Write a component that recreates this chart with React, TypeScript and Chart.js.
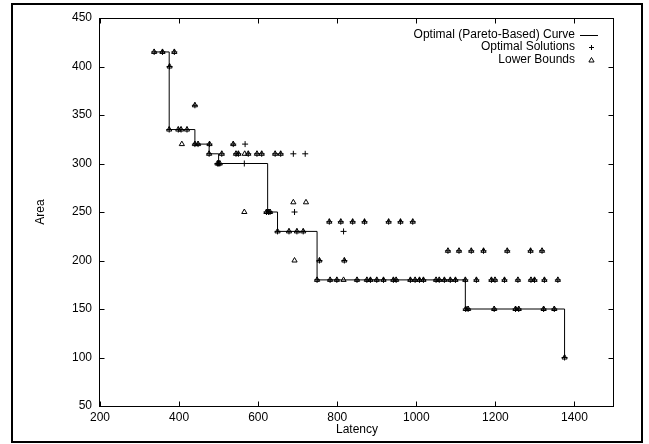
import React, { useEffect, useRef } from "react";
import { Chart, registerables } from "chart.js";

Chart.register(...registerables);

// Axis ticks
const X_TICKS = [200, 400, 600, 800, 1000, 1200, 1400];
const Y_TICKS = [50, 100, 150, 200, 250, 300, 350, 400, 450];

// Optimal (Pareto-based) curve corners (stepped)
const CURVE_LATENCY = [337, 375, 440, 476, 500, 624, 649, 749, 1124, 1375];
const CURVE_AREA = [415, 335, 320, 310, 300, 250, 230, 180, 150, 100];

// Points that are both optimal solutions and lower bounds
const BOTH_LATENCY = [
  337, 358, 388,
  376,
  440,
  375, 398, 405, 420,
  440, 448, 477, 537,
  476, 508, 544, 550, 575, 597, 609, 643, 657,
  497, 500, 503,
  621, 626, 630,
  649, 678, 698, 714,
  780, 809, 839, 869, 930, 960, 991,
  755, 818,
  749, 782, 799, 850, 875, 884, 900, 917, 942, 949, 985, 997, 1008, 1018,
  1050, 1058, 1071, 1086, 1099, 1124, 1152, 1190, 1199, 1223, 1257, 1290, 1299, 1324, 1358,
  1080, 1108, 1139, 1170, 1230, 1289, 1318,
  1125, 1131, 1197, 1251, 1259, 1322, 1349,
  1375,
];
const BOTH_AREA = [
  415, 415, 415,
  400,
  360,
  335, 335, 335, 335,
  320, 320, 320, 320,
  310, 310, 310, 310, 310, 310, 310, 310, 310,
  300, 300, 300,
  250, 250, 250,
  230, 230, 230, 230,
  240, 240, 240, 240, 240, 240, 240,
  200, 200,
  180, 180, 180, 180, 180, 180, 180, 180, 180, 180, 180, 180, 180, 180,
  180, 180, 180, 180, 180, 180, 180, 180, 180, 180, 180, 180, 180, 180, 180,
  210, 210, 210, 210, 210, 210, 210,
  150, 150, 150, 150, 150, 150, 150,
  100,
];

// Optimal solutions only
const OPT_ONLY_LATENCY = [567, 689, 719, 565, 692, 816];
const OPT_ONLY_AREA = [320, 310, 310, 300, 250, 230];

// Lower bounds only
const LB_ONLY_LATENCY = [407, 566, 565, 689, 721, 692, 816];
const LB_ONLY_AREA = [320, 310, 250, 260, 260, 200, 180];

const FONT_FAMILY = '"Liberation Sans", Arial, Helvetica, sans-serif';

const toPoints = (xs: number[], ys: number[]) => xs.map((x, i) => ({ x, y: ys[i] }));

const decorPlugin = {
  id: "decor",
  afterDraw(chart: any) {
    const { ctx, chartArea: a, scales } = chart;
    const x = scales.x;
    const y = scales.y;
    ctx.save();
    ctx.strokeStyle = "#000";
    ctx.lineWidth = 1;
    const L = Math.round(a.left) - 0.5;
    const R = Math.round(a.right) - 0.5;
    const T = Math.round(a.top) + 0.5;
    const B = Math.round(a.bottom) + 0.5;
    const tk = 5;
    ctx.beginPath();
    X_TICKS.forEach((v) => {
      const px = Math.round(x.getPixelForValue(v)) + 0.5;
      ctx.moveTo(px, B);
      ctx.lineTo(px, B - tk);
      ctx.moveTo(px, T);
      ctx.lineTo(px, T + tk);
    });
    Y_TICKS.forEach((v) => {
      const py = Math.round(y.getPixelForValue(v)) + 0.5;
      ctx.moveTo(L, py);
      ctx.lineTo(L + tk, py);
      ctx.moveTo(R, py);
      ctx.lineTo(R - tk, py);
    });
    ctx.stroke();
    ctx.strokeRect(L, T, R - L, B - T);

    // legend (top right, inside plot)
    const ds = chart.data.datasets;
    ctx.font = `12px ${FONT_FAMILY}`;
    ctx.fillStyle = "#000";
    ctx.textAlign = "right";
    ctx.textBaseline = "middle";
    const textRight = 575;
    const rows = [34.5, 47, 59.5];
    const symX = 591.5;
    ds.forEach((d: any, i: number) => {
      ctx.fillText(d.label, textRight, rows[i]);
    });
    ctx.beginPath();
    ctx.moveTo(580, Math.round(rows[0]) + 0.5);
    ctx.lineTo(598, Math.round(rows[0]) + 0.5);
    // plus
    ctx.moveTo(symX - 2.5, rows[1] + 0.5);
    ctx.lineTo(symX + 2.5, rows[1] + 0.5);
    ctx.moveTo(symX, rows[1] - 2);
    ctx.lineTo(symX, rows[1] + 3);
    ctx.stroke();
    // triangle
    const r = 3;
    const cy = rows[2] + 1;
    ctx.beginPath();
    ctx.moveTo(symX, cy - r);
    ctx.lineTo(symX + r * 0.866, cy + r / 2);
    ctx.lineTo(symX - r * 0.866, cy + r / 2);
    ctx.closePath();
    ctx.stroke();

    // outer frame
    ctx.lineWidth = 2;
    ctx.strokeRect(12, 4, 630, 438);
    ctx.restore();
  },
};

export default function App() {
  const canvasRef = useRef<HTMLCanvasElement | null>(null);

  useEffect(() => {
    if (!canvasRef.current) return;
    const chart = new Chart(canvasRef.current, {
      type: "scatter",
      data: {
        datasets: [
          {
            label: "Optimal (Pareto-Based) Curve",
            data: toPoints(CURVE_LATENCY, CURVE_AREA),
            showLine: true,
            stepped: true,
            borderColor: "#000",
            borderWidth: 1,
            pointRadius: 0,
            fill: false,
          } as any,
          {
            label: "Optimal Solutions",
            data: toPoints(
              BOTH_LATENCY.concat(OPT_ONLY_LATENCY),
              BOTH_AREA.concat(OPT_ONLY_AREA)
            ),
            pointStyle: "cross",
            pointRadius: 3,
            pointBorderColor: "#000",
            pointBorderWidth: 1,
            showLine: false,
          },
          {
            label: "Lower Bounds",
            data: toPoints(
              BOTH_LATENCY.concat(LB_ONLY_LATENCY),
              BOTH_AREA.concat(LB_ONLY_AREA)
            ),
            pointStyle: "triangle",
            pointRadius: 3,
            pointBorderColor: "#000",
            pointBackgroundColor: "rgba(0,0,0,0)",
            pointBorderWidth: 1,
            showLine: false,
          },
        ],
      },
      options: {
        animation: false,
        responsive: false,
        events: [],
        layout: { padding: { top: 18, right: 35, bottom: 0, left: 0 } },
        plugins: {
          legend: { display: false },
          tooltip: { enabled: false },
        },
        scales: {
          x: {
            type: "linear",
            min: 200,
            max: 1500,
            afterBuildTicks: (s: any) => {
              s.ticks = X_TICKS.map((v) => ({ value: v }));
            },
            afterFit: (s: any) => {
              s.height = 38;
            },
            grid: { display: false, drawTicks: false },
            border: { display: false },
            ticks: {
              color: "#000",
              font: { family: FONT_FAMILY, size: 12 },
              padding: 4,
              maxRotation: 0,
              autoSkip: false,
              callback: (v: any) => String(v),
            },
            title: {
              display: true,
              text: "Latency",
              color: "#000",
              font: { family: FONT_FAMILY, size: 12 },
              padding: { top: 0, bottom: 7 },
            },
          },
          y: {
            type: "linear",
            min: 50,
            max: 450,
            afterBuildTicks: (s: any) => {
              s.ticks = Y_TICKS.map((v) => ({ value: v }));
            },
            afterFit: (s: any) => {
              s.width = 100;
            },
            grid: { display: false, drawTicks: false },
            border: { display: false },
            ticks: {
              color: "#000",
              font: { family: FONT_FAMILY, size: 12 },
              padding: 8,
              autoSkip: false,
              callback: (v: any) => String(v),
            },
            title: {
              display: true,
              text: "Area",
              color: "#000",
              font: { family: FONT_FAMILY, size: 12 },
              padding: { top: 33, bottom: 0 },
            },
          },
        },
      },
      plugins: [decorPlugin],
    });
    return () => chart.destroy();
  }, []);

  return (
    <div style={{ position: "fixed", left: 0, top: 0, width: 649, height: 444, background: "#fff" }}>
      <canvas ref={canvasRef} width={649} height={444} style={{ display: "block", width: 649, height: 444 }} />
    </div>
  );
}
